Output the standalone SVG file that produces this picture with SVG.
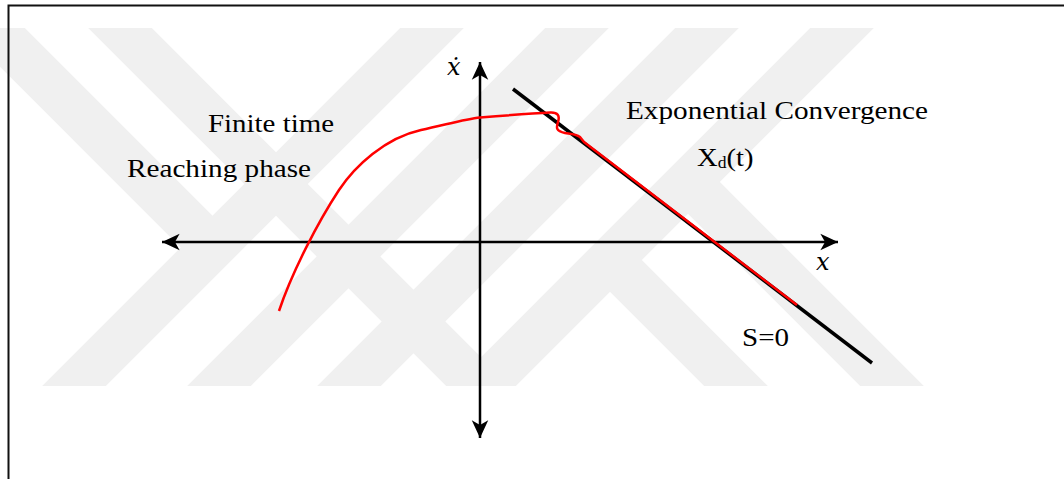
<svg xmlns="http://www.w3.org/2000/svg" width="1064" height="479" viewBox="0 0 1064 479">
<style>
.lbl{font-family:"Liberation Serif","Times New Roman",Times,serif;font-size:26px;fill:#000}
.math{font-family:"DejaVu Serif","Liberation Serif",serif;font-style:italic;font-size:24px;fill:#000}
.axis{stroke:#000;stroke-width:2.5;fill:none}
</style>
<defs>
<marker id="ah" markerUnits="userSpaceOnUse" markerWidth="20" markerHeight="20" viewBox="-16 -8 17 16" refX="0" refY="0" orient="auto-start-reverse">
<path d="M0,0 L-15,-7 L-11,0 L-15,7 Z" fill="#000"/>
</marker>
<clipPath id="wmclip"><rect x="0" y="28" width="1064" height="358"/></clipPath>
</defs>
<rect width="1064" height="479" fill="#fff"/>
<g id="watermark" clip-path="url(#wmclip)" stroke="#f0f0f0" stroke-width="45" fill="none">
<line x1="452" y1="8" x2="52" y2="408"/>
<line x1="597" y1="8" x2="197" y2="408"/>
<line x1="727" y1="8" x2="327" y2="408"/>
<line x1="862" y1="8" x2="462" y2="408"/>
<line x1="-27" y1="8" x2="212" y2="247"/>
<line x1="100" y1="8" x2="500" y2="408"/>
<line x1="610" y1="260" x2="758" y2="408"/>
<line x1="688" y1="182" x2="914" y2="408"/>
</g>
<path id="frame" d="M8.5,479 V5.5 H1064" stroke="#111" stroke-width="2" fill="none"/>
<g id="connectors">
<line id="x-axis" class="axis" x1="162" y1="242" x2="838" y2="242" marker-start="url(#ah)" marker-end="url(#ah)"/>
<line id="y-axis" class="axis" x1="480" y1="62" x2="480" y2="438" marker-start="url(#ah)" marker-end="url(#ah)"/>
<line id="sliding-surface" x1="513" y1="89" x2="872" y2="363" stroke="#000" stroke-width="3.5"/>
<path id="trajectory" d="M279,311 C292,272 318,222 339,190 C355,166 385,138 421,130 C445,125 465,119 480,117.5 C505,115.5 530,113.5 550,112.5 C558,112 560,116 558,122 C556,128 556,131 565,133 C572,134 576,134 580,137 L584,142 L797,305" stroke="#ff0000" stroke-width="2.5" fill="none" stroke-linejoin="round"/>
</g>
<g id="label-xdot"><text class="math" x="447" y="75">ẋ</text></g>
<g id="label-x"><text class="math" x="816" y="270">x</text></g>
<g id="label-finite"><text class="lbl" x="208" y="132" textLength="126" lengthAdjust="spacingAndGlyphs">Finite time</text></g>
<g id="label-reaching"><text class="lbl" x="127" y="177" textLength="184" lengthAdjust="spacingAndGlyphs">Reaching phase</text></g>
<g id="label-exp"><text class="lbl" x="626" y="119" textLength="302" lengthAdjust="spacingAndGlyphs">Exponential Convergence</text></g>
<g id="label-xd"><text class="lbl" transform="translate(697,166) scale(1.1,1)" x="0" y="0">X<tspan font-size="16" dy="2">d</tspan><tspan dy="-2">(t)</tspan></text></g>
<g id="label-s"><text class="lbl" x="742" y="346" textLength="47" lengthAdjust="spacingAndGlyphs">S=0</text></g>
</svg>
